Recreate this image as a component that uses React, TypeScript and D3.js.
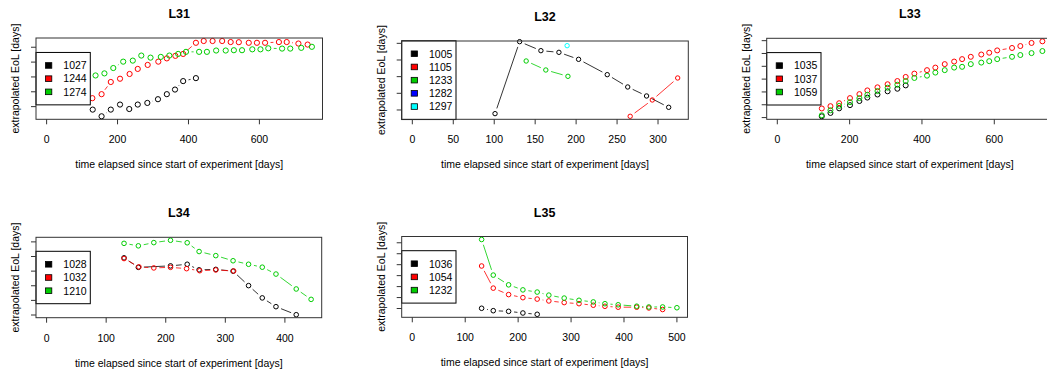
import React from 'react';
import * as d3 from 'd3';

// ---------- data (days since start, extrapolated EoL) ----------
const L31_1027_T = [130, 155, 181, 207, 233, 257, 284, 314, 339, 362, 385, 421];
const L31_1027_Y = [80, 35, 80, 114, 84, 114, 125, 150, 184, 215, 272, 292];
const L31_1244_T = [129, 155, 181, 207, 234, 257, 285, 315, 339, 363, 385, 421, 443, 468, 495, 519, 542, 570, 593, 616, 655, 677, 710, 736];
const L31_1244_Y = [157, 184, 266, 288, 320, 354, 381, 403, 425, 442, 455, 530, 542, 542, 542, 535, 534, 530, 530, 530, 535, 535, 525, 518];
const L31_1274_T = [138, 163, 188, 216, 243, 267, 293, 322, 346, 371, 393, 430, 452, 478, 505, 528, 551, 580, 603, 625, 664, 687, 718, 748];
const L31_1274_Y = [310, 324, 360, 403, 410, 444, 430, 435, 444, 455, 469, 469, 469, 478, 478, 480, 480, 486, 486, 493, 491, 491, 496, 503];

const L32_1005_T = [101, 131, 157, 179, 203, 238, 263, 286, 313];
const L32_1005_Y = [78, 510, 456, 446, 404, 312, 238, 184, 116];
const L32_1105_T = [266, 293, 324];
const L32_1105_Y = [62, 160, 292];
const L32_1233_T = [139, 163, 190];
const L32_1233_Y = [394, 340, 302];
const L32_1282_T: number[] = [];
const L32_1282_Y: number[] = [];
const L32_1297_T = [189];
const L32_1297_Y = [486];

const L33_1035_T = [123, 147, 171, 201, 227, 249, 277, 305, 332, 355];
const L33_1035_Y = [110, 136, 172, 197, 229, 256, 280, 305, 325, 351];
const L33_1037_T = [123, 147, 171, 201, 227, 249, 277, 305, 332, 355, 379, 414, 437, 463, 489, 511, 535, 564, 586, 608, 649, 672, 703, 733];
const L33_1037_Y = [171, 189, 212, 252, 283, 312, 336, 360, 385, 417, 443, 470, 490, 517, 537, 556, 574, 592, 606, 624, 643, 658, 682, 695];
const L33_1059_T = [123, 147, 171, 201, 227, 249, 277, 305, 332, 355, 379, 414, 437, 463, 489, 511, 535, 564, 586, 608, 649, 672, 703, 733];
const L33_1059_Y = [118, 157, 191, 220, 252, 278, 307, 333, 356, 385, 409, 427, 451, 470, 490, 496, 517, 529, 540, 556, 574, 588, 603, 619];

const L34_1028_T = [130, 154, 208, 236, 256, 284, 313, 339, 362, 385, 419];
const L34_1028_Y = [491, 426, 436, 447, 409, 412, 400, 301, 217, 157, 102];
const L34_1032_T = [130, 155, 180, 208, 235, 257, 284, 314];
const L34_1032_Y = [486, 429, 422, 426, 417, 403, 408, 401];
const L34_1210_T = [130, 154, 180, 208, 236, 256, 284, 313, 339, 362, 385, 419, 444];
const L34_1210_Y = [590, 573, 595, 611, 594, 534, 506, 471, 447, 427, 380, 278, 207];

const L35_1036_T = [131, 153, 182, 209, 236];
const L35_1036_Y = [102, 80, 74, 59, 47];
const L35_1054_T = [131, 153, 182, 209, 236, 258, 287, 315, 342, 364, 389, 424, 447, 473];
const L35_1054_Y = [488, 286, 227, 199, 186, 169, 154, 144, 130, 120, 112, 112, 105, 91];
const L35_1232_T = [131, 153, 182, 209, 236, 258, 287, 315, 342, 364, 389, 424, 447, 473, 500];
const L35_1232_Y = [730, 405, 316, 270, 250, 222, 195, 175, 160, 144, 134, 121, 114, 114, 107];

const X_TICKS_L31 = [0, 200, 400, 600];
const X_TICKS_L32 = [0, 50, 100, 150, 200, 250, 300];
const X_TICKS_L33 = [0, 200, 400, 600];
const X_TICKS_L34 = [0, 100, 200, 300, 400];
const X_TICKS_L35 = [0, 100, 200, 300, 400, 500];
const Y_TICKS_5 = [100, 200, 300, 400, 500];
const Y_TICKS_6 = [100, 200, 300, 400, 500, 600];
const Y_TICKS_7 = [100, 200, 300, 400, 500, 600, 700];

const PALETTE = ['#000000', '#FF0000', '#00CD00', '#0000FF', '#00FFFF'];

type Series = { id: string; t: number[]; y: number[] };
type Panel = {
  title: string;
  box: { left: number; top: number; right: number; bottom: number };
  series: Series[];
  xTicks: number[];
  yTicks: number[];
  yDomain?: [number, number];
  r: number;
};

const PANELS: Panel[] = [
  {
    title: 'L31', box: { left: 36, top: 38, right: 322.5, bottom: 119.3 },
    series: [
      { id: '1027', t: L31_1027_T, y: L31_1027_Y },
      { id: '1244', t: L31_1244_T, y: L31_1244_Y },
      { id: '1274', t: L31_1274_T, y: L31_1274_Y },
    ],
    xTicks: X_TICKS_L31, yTicks: Y_TICKS_5, r: 2.6,
  },
  {
    title: 'L32', box: { left: 401.7, top: 41, right: 688.3, bottom: 119.3 },
    series: [
      { id: '1005', t: L32_1005_T, y: L32_1005_Y },
      { id: '1105', t: L32_1105_T, y: L32_1105_Y },
      { id: '1233', t: L32_1233_T, y: L32_1233_Y },
      { id: '1282', t: L32_1282_T, y: L32_1282_Y },
      { id: '1297', t: L32_1297_T, y: L32_1297_Y },
    ],
    xTicks: X_TICKS_L32, yTicks: Y_TICKS_5, yDomain: [44, 514], r: 2.2,
  },
  {
    title: 'L33', box: { left: 766.7, top: 38.3, right: 1053, bottom: 119.3 },
    series: [
      { id: '1035', t: L33_1035_T, y: L33_1035_Y },
      { id: '1037', t: L33_1037_T, y: L33_1037_Y },
      { id: '1059', t: L33_1059_T, y: L33_1059_Y },
    ],
    xTicks: X_TICKS_L33, yTicks: Y_TICKS_7, r: 2.5,
  },
  {
    title: 'L34', box: { left: 36, top: 237.3, right: 321.7, bottom: 317.7 },
    series: [
      { id: '1028', t: L34_1028_T, y: L34_1028_Y },
      { id: '1032', t: L34_1032_T, y: L34_1032_Y },
      { id: '1210', t: L34_1210_T, y: L34_1210_Y },
    ],
    xTicks: X_TICKS_L34, yTicks: Y_TICKS_6, r: 2.3,
  },
  {
    title: 'L35', box: { left: 401.7, top: 236.5, right: 687.5, bottom: 317.3 },
    series: [
      { id: '1036', t: L35_1036_T, y: L35_1036_Y },
      { id: '1054', t: L35_1054_T, y: L35_1054_Y },
      { id: '1232', t: L35_1232_T, y: L35_1232_Y },
    ],
    xTicks: X_TICKS_L35, yTicks: Y_TICKS_7, r: 2.3,
  },
];

const FONT = "'Liberation Sans', Arial, sans-serif";
const GAP = 5.5;

function PanelView({ p }: { p: Panel }) {
  const { left, top, right, bottom } = p.box;
  const allT = p.series.flatMap((s) => s.t);
  const allY = p.series.flatMap((s) => s.y);
  const xMax = d3.max(allT) as number;
  const xPad = 0.04 * xMax;
  const x = d3.scaleLinear().domain([-xPad, xMax + xPad]).range([left, right]);
  let yDom: [number, number];
  if (p.yDomain) yDom = p.yDomain;
  else {
    const [lo, hi] = d3.extent(allY) as [number, number];
    const pad = 0.04 * (hi - lo);
    yDom = [lo - pad, hi + pad];
  }
  const y = d3.scaleLinear().domain(yDom).range([bottom, top]);
  const cx = (left + right) / 2;
  const cy = (top + bottom) / 2;

  const n = p.series.length;
  const step = 13.2;
  const lgH = (n - 1) * step + 26;
  const lgTop = cy - lgH / 2;
  const lgW = 54.3;

  return (
    <g>
      <text x={cx} y={top - 20} textAnchor="middle" fontFamily={FONT} fontWeight="bold" fontSize={12.5}>
        {p.title}
      </text>
      {p.series.map((s, si) => {
        const col = PALETTE[si];
        const pts = s.t.map((t, i) => [x(t), y(s.y[i])]);
        const segs: JSX.Element[] = [];
        for (let i = 0; i + 1 < pts.length; i++) {
          const [x0, y0] = pts[i];
          const [x1, y1] = pts[i + 1];
          const dx = x1 - x0, dy = y1 - y0;
          const len = Math.hypot(dx, dy);
          const f = GAP / len;
          if (f < 0.5) {
            segs.push(
              <line key={'l' + i} x1={x0 + f * dx} y1={y0 + f * dy} x2={x1 - f * dx} y2={y1 - f * dy}
                stroke={col} strokeWidth={0.8} />
            );
          }
        }
        return (
          <g key={s.id}>
            {segs}
            {pts.map(([px, py], i) => (
              <circle key={'c' + i} cx={px} cy={py} r={p.r} fill="none" stroke={col} strokeWidth={1} />
            ))}
          </g>
        );
      })}
      <rect x={left} y={lgTop} width={lgW} height={lgH} fill="#fff" stroke="#000" strokeWidth={1} />
      {p.series.map((s, si) => {
        const ey = lgTop + 13 + si * step;
        return (
          <g key={'lg' + s.id}>
            <rect x={left + 9.5} y={ey - 2.8} width={6.3} height={5.6} fill={PALETTE[si]} stroke="#000" strokeWidth={0.8} />
            <text x={left + 27.3} y={ey + 3.8} fontFamily={FONT} fontSize={10.5}>{s.id}</text>
          </g>
        );
      })}
      <rect x={left} y={top} width={right - left} height={bottom - top} fill="none" stroke="#333" strokeWidth={1} />
      {p.xTicks.map((t) => (
        <g key={'xt' + t}>
          <line x1={x(t)} x2={x(t)} y1={bottom} y2={bottom + 5} stroke="#333" strokeWidth={1} />
          <text x={x(t)} y={bottom + 24} textAnchor="middle" fontFamily={FONT} fontSize={10.5}>{t}</text>
        </g>
      ))}
      {p.yTicks.map((t) => (
        <line key={'yt' + t} x1={left - 5} x2={left} y1={y(t)} y2={y(t)} stroke="#333" strokeWidth={1} />
      ))}
      <text x={cx} y={bottom + 49} textAnchor="middle" fontFamily={FONT} fontSize={10.5}>
        time elapsed since start of experiment [days]
      </text>
      <text transform={`translate(${left - 17},${cy}) rotate(-90)`} textAnchor="middle" fontFamily={FONT} fontSize={10.5}>
        extrapolated EoL [days]
      </text>
    </g>
  );
}

export default function App() {
  return (
    <div style={{ position: 'absolute', left: 0, top: 0, width: 1047, height: 374, overflow: 'hidden', background: '#fff' }}>
      <svg width={1047} height={374} style={{ display: 'block' }}>
        <rect x={0} y={0} width={1047} height={374} fill="#fff" />
        {PANELS.map((p) => (
          <PanelView key={p.title} p={p} />
        ))}
      </svg>
    </div>
  );
}
